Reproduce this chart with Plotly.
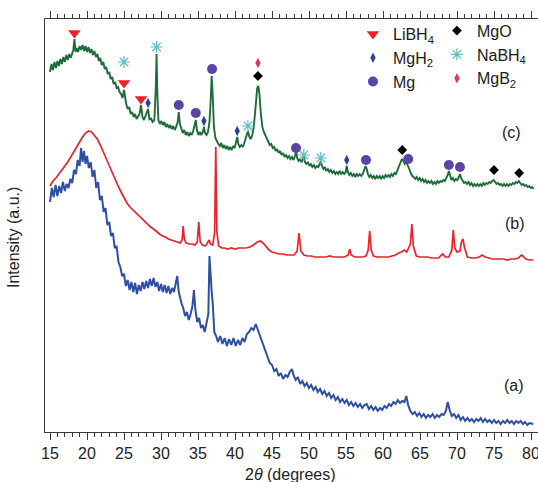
import plotly.graph_objects as go

# ---------------- data (2theta in degrees, intensity in a.u.) ----------------
# (a) blue pattern
a_pts = [
    (15.0, 230), (15.25, 244), (15.5, 235), (15.75, 247), (16.0, 236), (16.25, 246), (16.5, 239),
    (16.75, 250), (17.0, 241), (17.25, 248), (17.5, 244), (17.75, 253), (18.0, 249), (18.25, 262),
    (18.5, 258), (18.75, 272), (19.0, 266), (19.2, 284), (19.4, 270), (19.6, 281), (19.8, 268),
    (20.0, 276), (20.25, 264), (20.5, 270), (20.75, 255), (21.0, 262), (21.25, 244), (21.5, 250),
    (21.75, 232), (22.0, 236), (22.25, 220), (22.5, 224), (22.75, 207), (23.0, 210), (23.25, 196),
    (23.5, 199), (23.75, 184), (24.0, 186), (24.25, 170), (24.5, 165), (24.75, 156), (25.0, 158),
    (25.25, 146), (25.5, 152), (25.75, 142), (26.0, 150), (26.25, 140), (26.5, 149), (26.75, 138),
    (27.0, 147), (27.25, 141), (27.5, 150), (27.75, 143), (28.0, 151), (28.25, 144), (28.5, 153),
    (28.75, 146), (29.0, 154), (29.25, 145), (29.5, 150), (29.75, 141), (30.0, 148), (30.25, 140),
    (30.5, 147), (30.75, 139), (31.0, 146), (31.25, 138), (31.5, 144), (31.75, 140), (32.0, 148),
    (32.2, 156), (32.4, 140), (32.6, 133), (32.8, 128), (33.0, 124), (33.25, 116), (33.5, 120),
    (33.75, 112), (34.0, 118), (34.25, 126), (34.45, 142), (34.65, 122), (34.9, 110), (35.15, 114),
    (35.4, 104), (35.65, 107), (35.9, 100), (36.15, 108), (36.4, 118), (36.55, 176), (36.7, 150),
    (36.85, 140), (37.0, 128), (37.2, 100), (37.45, 96), (37.7, 90), (38.0, 96), (38.3, 88),
    (38.6, 94), (38.9, 86), (39.2, 93), (39.5, 87), (39.8, 94), (40.1, 86), (40.4, 92), (40.7, 87),
    (41.0, 94), (41.3, 90), (41.6, 98), (41.9, 100), (42.2, 104), (42.5, 102), (42.8, 108),
    (43.0, 104), (43.2, 100), (43.5, 92), (43.8, 88), (44.1, 80), (44.4, 75), (44.7, 69), (45.0, 67),
    (45.3, 61), (45.6, 63), (45.9, 56), (46.2, 59), (46.5, 53), (46.8, 57), (47.1, 55), (47.4, 60),
    (47.7, 63), (47.9, 57), (48.2, 52), (48.5, 55), (48.8, 48), (49.1, 51), (49.4, 46), (49.7, 49),
    (50.0, 44), (50.3, 47), (50.6, 42), (50.9, 45), (51.2, 40), (51.5, 43), (51.8, 38), (52.1, 41),
    (52.4, 36), (52.7, 39), (53.0, 34), (53.3, 37), (53.6, 32), (53.9, 35), (54.2, 30), (54.5, 33),
    (54.8, 29), (55.1, 32), (55.4, 27), (55.7, 30), (56.0, 26), (56.3, 29), (56.6, 25), (56.9, 28),
    (57.2, 24), (57.5, 27), (57.8, 28), (58.1, 23), (58.4, 26), (58.7, 22), (59.0, 25), (59.3, 21),
    (59.6, 24), (59.9, 22), (60.2, 26), (60.5, 24), (60.8, 28), (61.1, 26), (61.4, 30), (61.7, 28),
    (62.0, 32), (62.3, 29), (62.6, 31), (62.9, 30), (63.15, 36), (63.4, 27), (63.7, 21), (64.0, 18),
    (64.3, 20), (64.6, 16), (64.9, 19), (65.2, 15), (65.5, 18), (65.8, 14), (66.1, 17), (66.4, 15),
    (66.7, 18), (67.0, 14), (67.3, 17), (67.6, 15), (67.9, 18), (68.2, 17), (68.5, 21), (68.75, 30),
    (69.0, 22), (69.3, 16), (69.6, 18), (69.9, 14), (70.2, 17), (70.5, 12), (70.8, 15), (71.1, 11),
    (71.4, 14), (71.7, 11), (72.0, 13), (72.3, 10), (72.6, 13), (72.9, 11), (73.2, 14), (73.5, 10),
    (73.8, 13), (74.1, 10), (74.4, 12), (74.7, 9), (75.0, 12), (75.3, 9), (75.6, 11), (75.9, 8),
    (76.2, 11), (76.5, 9), (76.8, 12), (77.1, 9), (77.4, 11), (77.7, 8), (78.0, 11), (78.3, 9),
    (78.6, 11), (78.9, 8), (79.2, 10), (79.5, 7), (79.8, 9), (80.3, 8),
]

# (b) red pattern
b_pts = [
    (15.0, 246), (15.4, 251), (15.8, 254), (16.2, 258), (16.6, 262), (17.0, 265), (17.4, 270),
    (17.8, 275), (18.2, 280), (18.6, 286), (19.0, 291), (19.4, 295), (19.8, 299), (20.2, 301),
    (20.6, 300), (21.0, 297), (21.4, 293), (21.8, 287), (22.2, 280), (22.6, 273), (23.0, 266),
    (23.4, 259), (23.8, 252), (24.2, 246), (24.6, 240), (25.0, 234), (25.4, 229), (25.8, 225),
    (26.2, 222), (26.6, 219), (27.0, 216), (27.4, 213), (27.8, 211), (28.2, 208), (28.6, 205),
    (29.0, 203), (29.4, 200), (29.8, 198), (30.2, 196), (30.6, 195), (31.0, 193), (31.4, 192),
    (31.8, 191), (32.2, 190), (32.6, 189), (32.85, 192), (33.0, 206), (33.15, 193), (33.4, 189),
    (33.8, 188), (34.2, 188), (34.6, 187), (34.9, 190), (35.1, 210), (35.3, 190), (35.6, 187),
    (35.95, 186), (36.2, 188), (36.5, 192), (36.7, 188), (37.0, 187), (37.25, 200), (37.4, 285),
    (37.55, 200), (37.8, 186), (38.2, 184), (38.6, 184), (39.0, 183), (39.5, 184), (40.0, 183),
    (40.5, 184), (41.0, 184), (41.5, 184), (42.0, 185), (42.5, 187), (43.0, 190), (43.4, 191),
    (43.8, 189), (44.2, 185), (44.6, 182), (45.0, 180), (45.5, 179), (46.0, 178), (46.5, 178),
    (47.0, 177), (47.5, 177), (48.0, 177), (48.4, 181), (48.65, 199), (48.9, 181), (49.3, 177),
    (49.8, 176), (50.3, 176), (50.8, 175), (51.3, 175), (51.8, 175), (52.3, 175), (52.8, 176),
    (53.3, 175), (53.8, 175), (54.3, 175), (54.8, 175), (55.3, 177), (55.5, 183), (55.7, 177),
    (56.2, 175), (56.7, 175), (57.2, 175), (57.7, 176), (58.0, 182), (58.2, 201), (58.4, 182),
    (58.7, 176), (59.2, 175), (59.7, 175), (60.2, 175), (60.7, 175), (61.2, 176), (61.7, 177),
    (62.1, 179), (62.5, 180), (62.9, 182), (63.2, 180), (63.7, 188), (63.9, 208), (64.1, 186),
    (64.5, 176), (65.0, 175), (65.5, 175), (66.0, 175), (66.5, 174), (67.0, 174), (67.5, 174),
    (67.9, 177), (68.1, 178), (68.4, 175), (68.9, 175), (69.3, 182), (69.5, 202), (69.7, 184),
    (70.0, 180), (70.4, 181), (70.6, 190), (70.8, 193), (71.0, 185), (71.4, 175), (72.0, 174),
    (72.5, 174), (73.0, 175), (73.4, 177), (73.8, 175), (74.3, 174), (74.8, 173), (75.3, 173),
    (75.8, 173), (76.3, 173), (76.8, 172), (77.3, 173), (77.8, 173), (78.3, 174), (78.7, 177),
    (78.9, 176), (79.3, 173), (79.8, 172), (80.3, 172),
]

# (c) green pattern
c_pts = [
    (15.0, 360), (15.2, 368), (15.4, 362), (15.6, 370), (15.8, 364), (16.0, 371), (16.2, 366),
    (16.4, 373), (16.6, 368), (16.8, 375), (17.0, 370), (17.2, 377), (17.4, 372), (17.6, 378),
    (17.8, 374), (18.0, 379), (18.15, 382), (18.3, 393), (18.45, 380), (18.6, 384), (18.8, 380),
    (19.0, 386), (19.2, 382), (19.4, 387), (19.6, 381), (19.8, 386), (20.0, 380), (20.2, 385),
    (20.4, 379), (20.6, 383), (20.8, 377), (21.0, 381), (21.2, 375), (21.4, 378), (21.6, 371),
    (21.8, 374), (22.0, 367), (22.2, 370), (22.4, 363), (22.6, 365), (22.8, 358), (23.0, 360),
    (23.2, 353), (23.4, 355), (23.6, 348), (23.8, 350), (24.0, 344), (24.2, 345), (24.4, 340),
    (24.6, 338), (24.8, 334), (25.0, 342), (25.15, 334), (25.3, 328), (25.5, 323), (25.7, 325),
    (25.9, 318), (26.1, 320), (26.3, 315), (26.5, 318), (26.7, 313), (26.9, 316), (27.1, 318),
    (27.3, 327), (27.5, 315), (27.7, 312), (27.9, 316), (28.1, 318), (28.25, 323), (28.45, 312),
    (28.65, 314), (28.85, 310), (29.1, 312), (29.3, 345), (29.4, 378), (29.5, 340), (29.65, 312),
    (29.85, 308), (30.05, 311), (30.25, 307), (30.45, 310), (30.65, 305), (30.85, 308), (31.05, 304),
    (31.25, 307), (31.45, 303), (31.65, 306), (31.85, 302), (32.05, 305), (32.25, 310), (32.4, 320),
    (32.55, 308), (32.75, 302), (32.95, 299), (33.15, 302), (33.35, 297), (33.55, 300), (33.75, 296),
    (33.95, 299), (34.15, 297), (34.35, 301), (34.55, 306), (34.7, 312), (34.85, 302), (35.05, 297),
    (35.25, 300), (35.45, 297), (35.65, 300), (35.8, 305), (35.95, 299), (36.15, 297), (36.35, 300),
    (36.55, 310), (36.7, 330), (36.85, 356), (37.0, 335), (37.15, 305), (37.35, 294), (37.55, 290),
    (37.75, 288), (37.95, 286), (38.15, 289), (38.35, 284), (38.55, 287), (38.75, 283), (38.95, 286),
    (39.15, 282), (39.35, 285), (39.55, 282), (39.75, 286), (39.95, 284), (40.15, 289), (40.3, 295),
    (40.45, 288), (40.65, 285), (40.85, 287), (41.05, 285), (41.25, 289), (41.45, 294), (41.6, 299),
    (41.75, 301), (41.9, 296), (42.1, 293), (42.3, 296), (42.5, 303), (42.7, 318), (42.85, 335),
    (43.0, 344), (43.15, 346), (43.3, 338), (43.5, 318), (43.7, 305), (43.9, 300), (44.1, 297),
    (44.3, 293), (44.5, 291), (44.7, 287), (44.9, 288), (45.1, 284), (45.3, 285), (45.5, 281),
    (45.7, 283), (45.9, 279), (46.1, 281), (46.3, 277), (46.5, 279), (46.7, 275), (46.9, 277),
    (47.1, 274), (47.3, 276), (47.5, 273), (47.7, 275), (47.9, 272), (48.1, 276), (48.25, 281),
    (48.4, 274), (48.6, 271), (48.8, 273), (49.0, 270), (49.15, 272), (49.3, 276), (49.45, 270),
    (49.65, 268), (49.85, 270), (50.05, 266), (50.25, 268), (50.45, 265), (50.65, 267), (50.85, 264),
    (51.05, 266), (51.25, 265), (51.45, 268), (51.6, 271), (51.75, 266), (51.95, 263), (52.15, 265),
    (52.35, 261), (52.55, 263), (52.75, 260), (52.95, 262), (53.15, 259), (53.35, 261), (53.55, 258),
    (53.75, 260), (53.95, 258), (54.15, 261), (54.35, 258), (54.55, 260), (54.75, 258), (54.95, 260),
    (55.1, 266), (55.25, 260), (55.45, 257), (55.65, 259), (55.85, 256), (56.05, 258), (56.25, 255),
    (56.45, 258), (56.65, 256), (56.85, 258), (57.05, 256), (57.25, 258), (57.45, 262), (57.65, 266),
    (57.8, 263), (57.95, 258), (58.15, 255), (58.35, 257), (58.55, 254), (58.75, 256), (58.95, 253),
    (59.15, 256), (59.35, 254), (59.55, 256), (59.75, 253), (59.95, 256), (60.15, 254), (60.35, 257),
    (60.55, 255), (60.75, 257), (60.95, 255), (61.15, 258), (61.35, 256), (61.55, 259), (61.75, 258),
    (61.95, 262), (62.15, 265), (62.35, 269), (62.55, 273), (62.75, 271), (62.95, 268), (63.15, 270),
    (63.35, 267), (63.55, 263), (63.75, 259), (63.95, 256), (64.15, 255), (64.35, 253), (64.55, 255),
    (64.75, 252), (64.95, 254), (65.15, 251), (65.35, 253), (65.55, 250), (65.75, 252), (65.95, 249),
    (66.15, 251), (66.35, 249), (66.55, 251), (66.75, 248), (66.95, 250), (67.15, 248), (67.35, 251),
    (67.55, 249), (67.75, 251), (67.95, 250), (68.15, 252), (68.35, 251), (68.55, 254), (68.75, 257),
    (68.9, 261), (69.05, 256), (69.25, 252), (69.45, 254), (69.65, 251), (69.85, 253), (70.05, 252),
    (70.25, 255), (70.4, 258), (70.55, 254), (70.75, 251), (70.95, 249), (71.15, 250), (71.35, 248),
    (71.55, 250), (71.75, 247), (71.95, 249), (72.15, 246), (72.35, 248), (72.55, 246), (72.75, 248),
    (72.95, 246), (73.15, 248), (73.35, 246), (73.55, 249), (73.75, 247), (73.95, 249), (74.15, 248),
    (74.35, 250), (74.55, 249), (74.75, 251), (74.95, 252), (75.15, 250), (75.35, 248), (75.55, 249),
    (75.75, 247), (75.95, 248), (76.15, 246), (76.35, 248), (76.55, 246), (76.75, 248), (76.95, 246),
    (77.15, 248), (77.35, 247), (77.55, 249), (77.75, 248), (77.95, 250), (78.15, 249), (78.35, 251),
    (78.55, 249), (78.75, 247), (78.95, 248), (79.15, 246), (79.35, 247), (79.55, 245), (79.75, 246),
    (79.95, 244), (80.15, 245), (80.35, 243),
]

# phase identification markers on pattern (c): (2theta, marker height)
LiBH4_pts = [(18.3, 399), (25.0, 349), (27.3, 333)]
MgH2_pts = [(28.25, 329), (35.8, 311), (40.3, 301), (55.1, 272)]
Mg_pts = [(32.4, 327), (34.7, 319), (36.9, 363), (48.25, 284), (57.7, 272), (63.4, 273),
          (68.9, 267), (70.4, 265)]
MgO_pts = [(43.1, 356), (62.6, 282), (75.0, 262), (78.4, 259)]
NaBH4_pts = [(25.0, 370), (29.4, 385), (41.75, 306), (49.3, 277), (51.6, 274)]
MgB2_pts = [(43.1, 369)]

pattern_labels = ["(a)", "(b)", "(c)"]
pattern_label_pos = [(77.7, 47), (77.8, 209), (77.4, 300)]

x_tick_vals = list(range(15, 85, 5))

FONT = "Liberation Sans, Arial, Helvetica, sans-serif"
AXC = "#3a3a3a"


def split(pts):
    return [p[0] for p in pts], [p[1] for p in pts]


fig = go.Figure()

for pts, col, w in [(a_pts, "#2f4fa6", 2.0), (b_pts, "#ea2329", 1.7), (c_pts, "#1e6c3a", 1.9)]:
    xs, ys = split(pts)
    fig.add_trace(go.Scatter(x=xs, y=ys, mode="lines", line=dict(color=col, width=w),
                             showlegend=False, hoverinfo="skip"))

phases = [
    ("LiBH<sub>4</sub>", LiBH4_pts, dict(symbol="triangle-down", size=11, color="#ea2329"), "legend"),
    ("MgH<sub>2</sub>", MgH2_pts, dict(symbol="diamond-tall", size=7.5, color="#2d3f9c"), "legend"),
    ("Mg", Mg_pts, dict(symbol="circle", size=10, color="#5a45a6"), "legend"),
    ("MgO", MgO_pts, dict(symbol="diamond", size=7.5, color="#000000"), "legend2"),
    ("NaBH<sub>4</sub>", NaBH4_pts, dict(symbol="asterisk-open", size=10, color="#5fbcc0",
                                         line=dict(color="#5fbcc0", width=1.2)), "legend2"),
    ("MgB<sub>2</sub>", MgB2_pts, dict(symbol="diamond-tall", size=7.5, color="#e8306a"), "legend2"),
]
for name, pts, mk, lg in phases:
    xs, ys = split(pts)
    fig.add_trace(go.Scatter(x=xs, y=ys, mode="markers", name=name, marker=mk, legend=lg,
                             hoverinfo="skip"))

for lab, (lx, ly) in zip(pattern_labels, pattern_label_pos):
    fig.add_annotation(x=lx, y=ly, xref="x", yref="y", text=lab, showarrow=False,
                       font=dict(family=FONT, size=16, color="#222"))

fig.add_annotation(x=0.497, y=-0.102, xref="paper", yref="paper", text="2<i>θ</i> (degrees)",
                   showarrow=False, font=dict(family=FONT, size=16, color="#222"),
                   xanchor="center", yanchor="middle")
fig.add_annotation(x=-0.065, y=0.472, xref="paper", yref="paper", text="Intensity (a.u.)",
                   textangle=-90, showarrow=False, font=dict(family=FONT, size=16, color="#222"),
                   xanchor="center", yanchor="middle")

legend_common = dict(xanchor="left", yanchor="top", bgcolor="rgba(0,0,0,0)", borderwidth=0,
                     font=dict(family=FONT, size=16, color="#1a1a1a"), orientation="v",
                     itemsizing="trace")
fig.update_layout(
    width=538, height=482,
    margin=dict(l=45, r=0, t=19, b=50),
    plot_bgcolor="white", paper_bgcolor="white",
    legend=dict(x=0.6247, y=1.0048, **legend_common),
    legend2=dict(x=0.795, y=1.013, **legend_common),
    font=dict(family=FONT, size=16, color="#222"),
)
fig.update_xaxes(range=[14.324, 80.946], tickvals=x_tick_vals, ticks="outside", ticklen=7,
                 tickwidth=1.2, tickcolor=AXC, showline=True, linecolor=AXC, linewidth=1.3,
                 mirror="ticks", showgrid=False, zeroline=False, automargin=False,
                 ticklabeloverflow="allow",
                 tickfont=dict(family=FONT, size=16, color="#222"),
                 minor=dict(dtick=1, tick0=15, ticks="outside", ticklen=4, tickwidth=1,
                            tickcolor=AXC, showgrid=False))
fig.update_yaxes(range=[0, 413], showticklabels=False, ticks="", showline=True, linecolor=AXC,
                 linewidth=1.3, showgrid=False, zeroline=False, automargin=False)

fig.write_html("out.html")
